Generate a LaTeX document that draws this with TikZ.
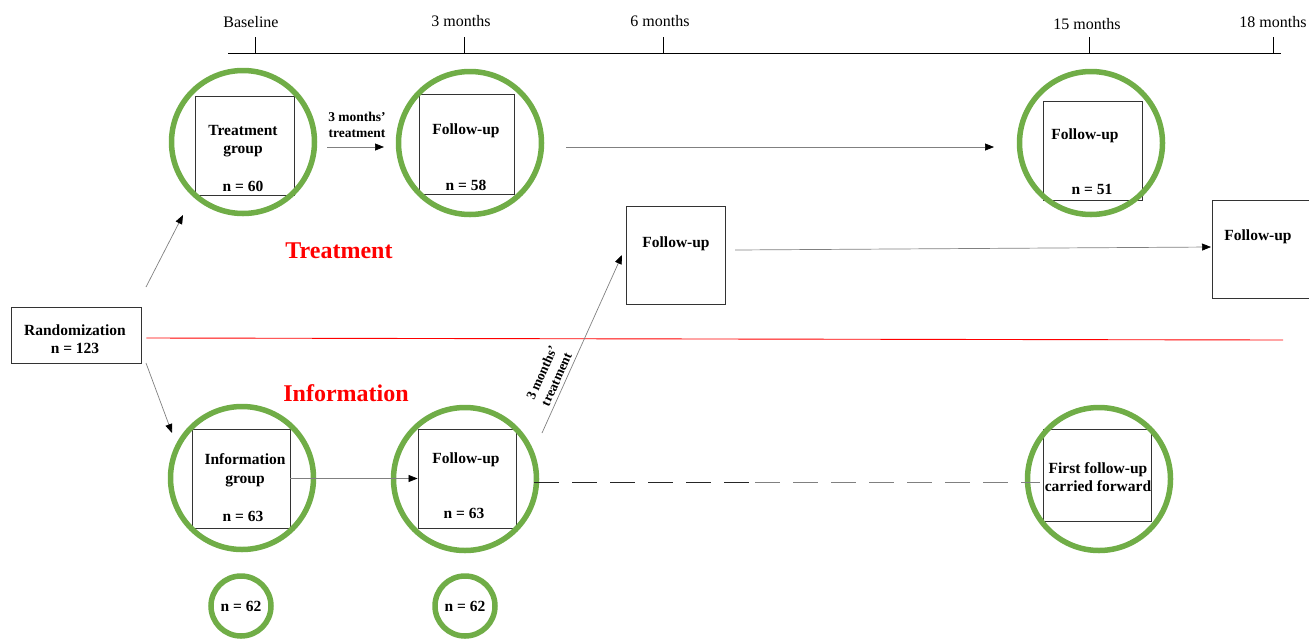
\documentclass[tikz,border=0pt]{standalone}
\usepackage{fontspec}
\setmainfont{Liberation Serif}
\usetikzlibrary{arrows.meta}
\definecolor{grn}{RGB}{112,173,71}
\begin{document}
\begin{tikzpicture}[x=1pt,y=-1pt,
 ring/.style={circle,draw=grn,line width=5.5pt,minimum size=#1,inner sep=0pt},
 ring/.default=143pt,
 box/.style={draw=black!80,line width=0.9pt,inner sep=0pt},
 lbl/.style={font=\bfseries\fontsize{15.5}{18.5}\selectfont,align=center,inner sep=0pt},
 small/.style={font=\bfseries\fontsize{13.5}{16}\selectfont,align=center,inner sep=0pt},
 tl/.style={font=\fontsize{16}{18}\selectfont,inner sep=0pt},
 arr/.style={draw=black!50,line width=0.7pt,-{Triangle[length=9pt,width=7pt,color=black]}},
 grp/.style={font=\bfseries\fontsize{24}{28}\selectfont,text=red,inner sep=0pt}
]
\useasboundingbox (0,0) rectangle (1309,638);

% timeline
\coordinate (t0) at (228,53);
\coordinate (t1) at (1281,53);
\draw[line width=1pt] (t0) -- (t1);
\foreach \x/\lx/\ly/\t [count=\i] in {255/251/22/Baseline,464/461/21/3 months,663/660/21/6 months,1089/1087/24/15 months,1273/1273/22/18 months}{
  \coordinate (tk\i) at (\x,53);
  \draw[line width=1pt] (tk\i) -- ++(0,-16);
  \node[tl] (tt\i) at (\lx,\ly) {\t};
}

% treatment arm
\node[box,minimum width=99pt,minimum height=99pt] (tgbox) at (244.5,145.5) {};
\node[ring] (tgring) at (243,142) {};
\node[lbl] (tgtxt) at (243,141) {Treatment\\group};
\node[lbl] (tgn) at (243,186) {n = 60};

\node[box,minimum width=95pt,minimum height=100pt] (f3box) at (466.5,144) {};
\node[ring] (f3ring) at (470,143) {};
\node[lbl] (f3txt) at (466,131) {Follow-up};
\node[lbl] (f3n) at (466,185) {n = 58};

\node[box,minimum width=99pt,minimum height=99pt] (f15box) at (1092.5,150.5) {};
\node[ring] (f15ring) at (1091,143) {};
\node[lbl] (f15txt) at (1085,136) {Follow-up};
\node[lbl] (f15n) at (1092,189) {n = 51};

\node[box,minimum width=99pt,minimum height=98pt] (f6box) at (675.5,255) {};
\node[lbl] (f6txt) at (676,244) {Follow-up};

\node[box,minimum width=100pt,minimum height=98pt] (f18box) at (1262,249) {};
\node[lbl] (f18txt) at (1258,237) {Follow-up};

% randomization
\node[box,minimum width=130pt,minimum height=56pt] (rand) at (76,335) {};
\node[lbl] (randtxt) at (75,339) {Randomization\\n = 123};

\draw[red,line width=0.9pt] (rand.east) ++(5,3) coordinate (r0) -- (1283,340) coordinate (r1);

\node[grp] (gt) at (339,251) {Treatment};
\node[grp] (gi) at (346,393) {Information};

% information arm
\node[box,minimum width=98pt,minimum height=99pt] (igbox) at (241,478.5) {};
\node[ring] (igring) at (242,478) {};
\node[lbl] (igtxt) at (245,470) {Information\\group};
\node[lbl] (ign) at (243,516) {n = 63};

\node[box,minimum width=98pt,minimum height=99pt] (fibox) at (467,478.5) {};
\node[ring] (firing) at (465,479) {};
\node[lbl] (fitxt) at (466,460) {Follow-up};
\node[lbl] (fin) at (464,513) {n = 63};

\node[box,minimum width=108pt,minimum height=92pt] (ffbox) at (1097,475) {};
\node[ring] (ffring) at (1099,479) {};
\node[lbl] (fftxt) at (1098,477) {First follow-up\\carried forward};

\node[ring=60pt] (s1) at (241,606) {};
\node[lbl] (s1t) at (241,606) {n = 62};
\node[ring=60pt] (s2) at (465,606) {};
\node[lbl] (s2t) at (465,606) {n = 62};

% connectors
\coordinate (a1s) at (146,287); \coordinate (a1e) at (183,215);
\draw[arr] (a1s) -- (a1e);
\coordinate (a2s) at (146,363); \coordinate (a2e) at (172,433);
\draw[arr] (a2s) -- (a2e);
\coordinate (a3s) at (327,147); \coordinate (a3e) at (384,147);
\draw[arr] (a3s) -- (a3e);
\node[small] (a3l) at (357,125) {3 months'\\treatment};
\coordinate (a4s) at (566,147); \coordinate (a4e) at (994,147);
\draw[arr] (a4s) -- (a4e);
\coordinate (a5s) at (735,250); \coordinate (a5e) at (1211,247);
\draw[arr] (a5s) -- (a5e);
\draw[arr] (igbox.east) -- (fibox.west);
\coordinate (a7s) at (542,433); \coordinate (a7e) at (622,255);
\draw[arr] (a7s) -- (a7e);
\node[small,rotate=65.8] (a7l) at (549,376) {3 months'\\treatment};
\coordinate (d0) at (534,482); \coordinate (dm) at (750,482); \coordinate (d1) at (1040,482);
\draw[line width=1pt,black!85,dash pattern=on 25pt off 13pt] (d0) -- (dm);
\draw[line width=1pt,black!50,dash pattern=on 25pt off 13pt,dash phase=-5pt] (dm) -- (d1);
\end{tikzpicture}
\end{document}
